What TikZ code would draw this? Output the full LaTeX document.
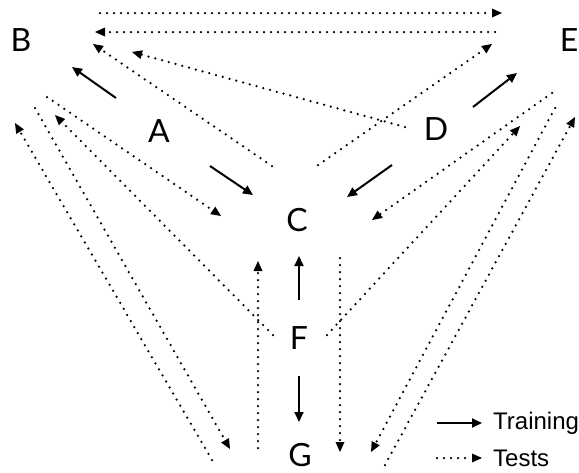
\documentclass[tikz,border=0pt]{standalone}
\usepackage{fontspec}
\setmainfont{Lato}
\newfontfamily\legendfont{Liberation Sans}
\usetikzlibrary{arrows.meta}
\begin{document}
\begin{tikzpicture}[x=1pt,y=-1pt,
  lbl/.style={font=\fontsize{32}{32}\selectfont, inner sep=0pt},
  train/.style={line width=2pt, -{Triangle[length=10pt,width=9pt]}},
  tests/.style={line width=2.5pt, line cap=round, dash pattern=on 0pt off 7pt, -{Triangle[length=10pt,width=9pt,line width=0pt]}},
  legtext/.style={font=\legendfont\fontsize{24}{24}\selectfont, anchor=west, inner sep=0pt}]
\useasboundingbox (0,0) rectangle (579,472);
% letters
\node[lbl] (B) at (21,40) {B};
\node[lbl] (E) at (569,40) {E};
\node[lbl] (A) at (159,131) {A};
\node[lbl] (D) at (436,129) {D};
\node[lbl] (C) at (297,220) {C};
\node[lbl] (F) at (299,338) {F};
\node[lbl] (G) at (300,455) {G};
% endpoints of training arrows
\coordinate (ab0) at (116,98);  \coordinate (ab1) at (72,67);
\coordinate (ac0) at (210,166); \coordinate (ac1) at (253,195);
\coordinate (de0) at (473,107); \coordinate (de1) at (517,73);
\coordinate (dc0) at (392,165); \coordinate (dc1) at (347,197);
\coordinate (fc0) at (299,300); \coordinate (fc1) at (299,256);
\coordinate (fg0) at (299,376); \coordinate (fg1) at (299,422);
\draw[train] (ab0) -- (ab1);
\draw[train] (ac0) -- (ac1);
\draw[train] (de0) -- (de1);
\draw[train] (dc0) -- (dc1);
\draw[train] (fc0) -- (fc1);
\draw[train] (fg0) -- (fg1);
% endpoints of test arrows
\coordinate (t1a) at (100,13);  \coordinate (t1b) at (502,13);
\coordinate (t2a) at (495,32);  \coordinate (t2b) at (95,32);
\coordinate (t3a) at (405,127); \coordinate (t3b) at (132,52);
\coordinate (t4a) at (272,166); \coordinate (t4b) at (93,44);
\coordinate (t5a) at (318,165); \coordinate (t5b) at (492,44);
\coordinate (t6a) at (47,97);   \coordinate (t6b) at (221,216);
\coordinate (t7a) at (273,335); \coordinate (t7b) at (55,115);
\coordinate (t8a) at (35,108);  \coordinate (t8b) at (230,449);
\coordinate (t9a) at (212,460); \coordinate (t9b) at (15,123);
\coordinate (t10a) at (552,93); \coordinate (t10b) at (372,220);
\coordinate (t11a) at (555,108); \coordinate (t11b) at (371,452);
\coordinate (t12a) at (327,335); \coordinate (t12b) at (520,126);
\coordinate (t13a) at (385,465); \coordinate (t13b) at (575,117);
\coordinate (t14a) at (258,448); \coordinate (t14b) at (258,261);
\coordinate (t15a) at (340,258); \coordinate (t15b) at (340,452);
\foreach \i in {1,...,15} { \draw[tests] (t\i a) -- (t\i b); }
% legend
\coordinate (lt0) at (437,423); \coordinate (lt1) at (482,423);
\coordinate (ls0) at (437,458); \coordinate (ls1) at (482,458);
\draw[train] (lt0) -- (lt1);
\draw[tests] (ls0) -- (ls1);
\node[legtext] (ltr) at (493,423) {Training};
\node[legtext] (lts) at (493,458) {Tests};
\end{tikzpicture}
\end{document}
